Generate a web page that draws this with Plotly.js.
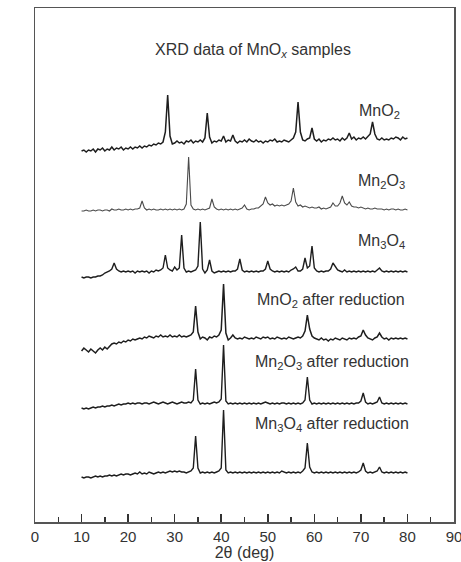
<!DOCTYPE html>
<html>
<head>
<meta charset="utf-8">
<script src="https://cdn.plot.ly/plotly-3.0.1.min.js"></script>
<style>html,body{margin:0;padding:0;background:#fff;}#chart{width:461px;height:562px;}</style>
</head>
<body>
<div id="chart"></div>
<script>
// 2θ grid (deg)
const twoTheta = [
10,10.5,11,11.5,12,12.5,13,13.5,14,14.5,
15,15.5,16,16.5,17,17.5,18,18.5,19,19.5,
20,20.5,21,21.5,22,22.5,23,23.5,24,24.5,
25,25.5,26,26.5,27,27.5,28,28.5,29,29.5,
30,30.5,31,31.5,32,32.5,33,33.5,34,34.5,
35,35.5,36,36.5,37,37.5,38,38.5,39,39.5,
40,40.5,41,41.5,42,42.5,43,43.5,44,44.5,
45,45.5,46,46.5,47,47.5,48,48.5,49,49.5,
50,50.5,51,51.5,52,52.5,53,53.5,54,54.5,
55,55.5,56,56.5,57,57.5,58,58.5,59,59.5,
60,60.5,61,61.5,62,62.5,63,63.5,64,64.5,
65,65.5,66,66.5,67,67.5,68,68.5,69,69.5,
70,70.5,71,71.5,72,72.5,73,73.5,74,74.5,
75,75.5,76,76.5,77,77.5,78,78.5,79,79.5,
80];

// stacked intensities (a.u., offset already included)
const MnO2 = [
371,372,370,372,371,373,370,373,372,374,
371,373,372,375,372,374,373,375,372,374,
373,375,373,375,374,376,374,376,375,377,
376,378,377,379,378,380,390,427,386,378,
379,381,379,380,378,381,380,382,379,381,
380,382,380,384,409,385,379,381,380,382,
381,386,380,382,381,387,381,379,381,380,
382,380,383,381,380,382,380,381,379,381,
380,382,381,383,380,381,380,382,381,380,
382,384,390,420,390,382,381,383,384,394,
383,381,383,380,382,381,383,382,384,382,
383,381,384,382,384,389,383,385,382,384,
383,385,383,386,388,400,388,383,382,384,
382,383,382,384,383,385,384,382,385,383,
384];

const Mn2O3 = [
311,311,312,311,311,312,311,312,312,311,
312,312,311,313,312,312,313,312,312,313,
312,313,312,313,313,314,321,314,312,313,
312,313,312,312,313,312,313,312,313,312,
313,312,313,312,313,318,365,317,313,312,
313,312,313,312,313,314,323,315,313,312,
313,312,313,312,313,312,313,312,313,314,
317,313,312,313,313,314,314,316,318,325,
319,317,318,316,317,316,317,316,317,318,
321,334,320,316,317,315,316,315,314,315,
314,314,315,313,314,313,314,315,319,316,
316,319,326,319,317,320,316,315,315,314,
315,314,313,314,313,313,314,313,313,313,
312,313,312,313,313,312,313,312,312,313,
312];

const Mn3O4 = [
245,244,245,245,244,245,245,246,246,247,
249,250,251,253,259,253,251,250,251,250,
251,250,251,249,251,250,251,250,251,249,
251,250,252,251,252,254,267,254,252,251,
255,252,254,287,254,250,251,250,251,252,
256,300,253,249,252,262,251,249,250,251,
250,251,250,251,250,251,251,253,263,252,
250,251,250,251,250,251,250,251,251,253,
261,253,251,250,251,250,251,250,251,250,
252,253,255,251,251,253,264,254,256,276,
254,251,250,251,250,251,251,253,259,255,
252,251,250,252,250,251,250,251,250,251,
250,251,250,251,250,251,250,252,254,251,
250,251,250,251,250,251,250,251,250,251,
250];

const MnO2_red = [
171,174,172,170,173,171,169,172,174,172,
175,173,176,178,179,178,180,179,181,180,
182,181,183,182,183,184,183,185,184,186,
185,184,186,185,187,185,186,185,187,185,
186,185,187,185,186,185,186,187,190,216,
190,183,185,184,182,185,184,186,185,187,
192,238,189,182,184,187,184,183,184,183,
185,184,183,184,183,185,184,183,185,184,
185,183,184,183,185,184,183,184,183,185,
184,183,184,185,184,186,191,207,193,186,
184,183,182,184,182,183,181,183,182,184,
183,182,184,183,182,184,183,184,183,185,
186,192,187,184,183,182,184,185,189,185,
183,184,182,184,183,184,183,184,183,184,
183];

const Mn2O3_red = [
114,113,114,113,114,115,114,115,115,116,
115,116,116,117,116,117,118,117,118,118,
119,118,119,118,119,119,118,119,119,118,
119,120,119,118,119,120,119,118,119,120,
119,118,119,120,119,119,120,119,122,153,
122,118,119,118,119,118,119,120,119,120,
123,177,121,118,119,118,119,118,119,118,
119,118,119,118,119,118,119,118,119,120,
119,118,119,118,119,118,119,119,118,119,
118,119,118,119,118,119,122,145,122,118,
119,118,119,118,119,118,119,118,119,118,
119,118,119,118,119,118,119,118,119,119,
121,129,120,118,119,118,119,120,125,119,
118,119,118,119,118,119,118,119,118,119,
118];

const Mn3O4_red = [
45,44,45,45,44,45,46,45,46,45,
46,46,47,46,47,46,47,48,47,48,
48,47,48,49,48,50,48,49,48,50,
49,48,49,50,49,50,49,50,51,50,
51,50,51,50,50,49,50,51,54,86,
54,49,50,49,50,49,50,49,50,51,
54,112,52,49,50,49,50,49,50,49,
50,49,50,49,50,49,50,49,50,49,
50,49,50,49,50,49,51,50,49,50,
49,50,49,50,49,51,54,79,55,50,
49,50,49,50,49,50,49,50,49,50,
49,50,49,50,49,50,49,50,49,50,
52,59,51,49,50,49,50,51,55,50,
49,50,49,50,49,50,49,50,49,50,
49];

const seriesNames = ['MnO2','Mn2O3','Mn3O4','MnO2 after reduction','Mn2O3 after reduction','Mn3O4 after reduction'];
const seriesData = [MnO2, Mn2O3, Mn3O4, MnO2_red, Mn2O3_red, Mn3O4_red];
const seriesLabels = ['MnO<sub>2</sub>','Mn<sub>2</sub>O<sub>3</sub>','Mn<sub>3</sub>O<sub>4</sub>',
  'MnO<sub>2</sub> after reduction','Mn<sub>2</sub>O<sub>3</sub> after reduction','Mn<sub>3</sub>O<sub>4</sub> after reduction'];
const labelX = [78.9, 79.8, 79.8, 80.0, 80.8, 80.8];
const labelY = [411, 341, 281, 222, 160, 98];
const lineColors = ['#1e1e1e','#4a4a4a','#1e1e1e','#1e1e1e','#1e1e1e','#1e1e1e'];
const lineWidths = [1.5, 1.1, 1.4, 1.5, 1.4, 1.4];

const FONT = 'Liberation Sans, Arial, Helvetica, sans-serif';
const TXT = '#333333';

const traces = seriesData.map((y, i) => ({
  x: twoTheta, y: y, type: 'scatter', mode: 'lines', name: seriesNames[i],
  line: {color: lineColors[i], width: lineWidths[i]}, hoverinfo: 'skip'
}));

const annotations = seriesLabels.map((t, i) => ({
  x: labelX[i], y: labelY[i], xref: 'x', yref: 'y', text: t, showarrow: false,
  xanchor: 'right', yanchor: 'middle', font: {family: FONT, size: 16, color: TXT}
}));
annotations.push({
  x: 46.9, y: 472, xref: 'x', yref: 'y', text: 'XRD data of MnO<sub><i>x</i></sub> samples',
  showarrow: false, xanchor: 'center', yanchor: 'middle', font: {family: FONT, size: 16, color: TXT}
});
annotations.push({
  x: -4.0, y: 265, xref: 'x', yref: 'y', text: 'Intensity (a.u.)', textangle: -90,
  showarrow: false, xanchor: 'center', yanchor: 'middle', font: {family: FONT, size: 15, color: TXT}
});

const layout = {
  width: 461, height: 562,
  margin: {l: 35, r: 7, t: 8, b: 40, pad: 0},
  paper_bgcolor: '#ffffff', plot_bgcolor: '#ffffff',
  showlegend: false,
  xaxis: {
    range: [0, 90], tick0: 0, dtick: 10, ticks: 'inside', ticklen: 8, tickwidth: 1.5, tickcolor: '#333',
    minor: {dtick: 5, ticks: 'inside', ticklen: 5, tickwidth: 1.5, tickcolor: '#333', showgrid: false},
    showline: true, linecolor: '#555', linewidth: 1.5, mirror: true,
    showgrid: false, zeroline: false, ticklabeloverflow: 'allow',
    tickfont: {family: FONT, size: 15, color: TXT},
    title: {text: '2θ (deg)', font: {family: FONT, size: 16, color: TXT}, standoff: 2}
  },
  yaxis: {
    range: [0, 514], showticklabels: false, ticks: '', showgrid: false, zeroline: false,
    showline: true, linecolor: '#555', linewidth: 1.5, mirror: true
  },
  annotations: annotations
};

Plotly.newPlot('chart', traces, layout, {staticPlot: true, displayModeBar: false});
</script>
</body>
</html>
